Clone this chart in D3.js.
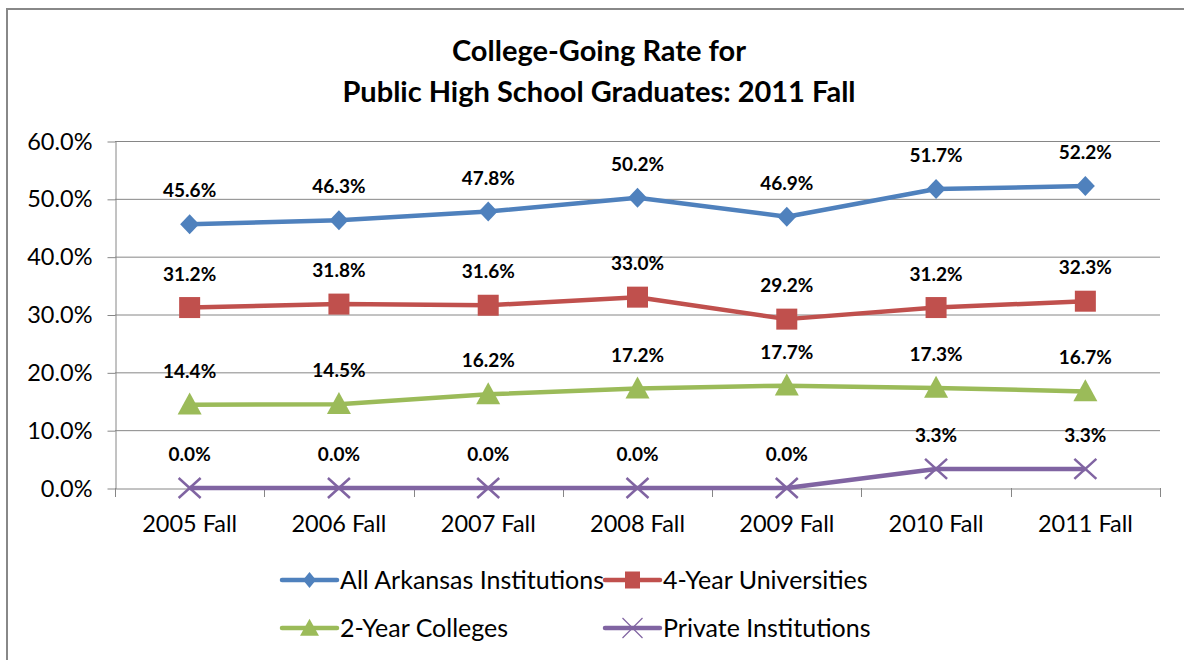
<!DOCTYPE html>
<html><head><meta charset="utf-8">
<script src="https://cdn.jsdelivr.net/npm/d3@7"></script>
<style>body{margin:0;background:#fff;}svg{display:block;font-family:Lato,"Open Sans",sans-serif;}</style>
</head><body><svg id="c" width="1184" height="660"></svg>
<script>
const categories = ["2005 Fall","2006 Fall","2007 Fall","2008 Fall","2009 Fall","2010 Fall","2011 Fall"];
const allArkansas = [45.6,46.3,47.8,50.2,46.9,51.7,52.2];
const fourYear = [31.2,31.8,31.6,33.0,29.2,31.2,32.3];
const twoYear = [14.4,14.5,16.2,17.2,17.7,17.3,16.7];
const privateInst = [0.0,0.0,0.0,0.0,0.0,3.3,3.3];
const yTicks = [0,10,20,30,40,50,60];
const seriesNames = ["All Arkansas Institutions","4-Year Universities","2-Year Colleges","Private Institutions"];
const seriesColors = ["#4F81BD","#C0504D","#9BBB59","#8064A2"];
const seriesMarkers = ["diamond","square","triangle","x"];
const seriesValues = [allArkansas, fourYear, twoYear, privateInst];

const svg = d3.select("#c");
svg.append("rect").attr("x",7).attr("y",9).attr("width",1200).attr("height",700)
  .attr("fill","none").attr("stroke","#888").attr("stroke-width",2);

const L=115,R=1160,T=141,B=488;
const x = d3.scaleBand().domain(categories).range([L,R]);
const y = d3.scaleLinear().domain([0,60]).range([B,T]);

// title
const title = svg.append("text").attr("text-anchor","middle").attr("font-weight","bold")
  .attr("font-size",29).attr("fill","#000");
title.append("tspan").attr("x",599).attr("y",61).text("College-Going Rate for");
title.append("tspan").attr("x",599).attr("y",102).text("Public High School  Graduates: 2011 Fall");

// gridlines
svg.append("g").selectAll("line").data(yTicks.filter(d=>d>0)).join("line")
  .attr("x1",L).attr("x2",R).attr("y1",d=>y(d)+0.5).attr("y2",d=>y(d)+0.5)
  .attr("stroke","#868686").attr("stroke-width",1);

// y axis
const yAxis = d3.axisLeft(y).tickValues(yTicks).tickSize(8).tickSizeOuter(0).tickPadding(15)
  .tickFormat(d=>d.toFixed(1)+"%");
const gy = svg.append("g").attr("transform",`translate(${L+0.5},0.5)`).call(yAxis);
gy.select(".domain").attr("stroke","#868686");
gy.selectAll(".tick line").attr("stroke","#868686");
gy.selectAll(".tick text").attr("font-size",23.5).attr("fill","#000").attr("font-family","Lato");

// x axis
const xAxis = d3.axisBottom(x).tickSize(0).tickPadding(27);
const gx = svg.append("g").attr("transform",`translate(0,${B+0.5})`).call(xAxis);
gx.select(".domain").attr("stroke","#868686");
gx.selectAll(".tick text").attr("font-size",23.5).attr("fill","#000").attr("font-family","Lato");
// band boundary ticks
const bounds = categories.map(c=>x(c)).concat([R]);
svg.append("g").selectAll("line").data(bounds).join("line")
  .attr("x1",d=>Math.round(d)+0.5).attr("x2",d=>Math.round(d)+0.5).attr("y1",B).attr("y2",B+9)
  .attr("stroke","#868686");

function marker(g, type, color, w, h, sw){
  if(type==="diamond") g.append("path").attr("d",`M0,${-h/2}L${w/2},0L0,${h/2}L${-w/2},0Z`).attr("fill",color);
  else if(type==="square") g.append("rect").attr("x",-w/2).attr("y",-h/2).attr("width",w).attr("height",h).attr("fill",color);
  else if(type==="triangle") g.append("path").attr("d",`M0,${-h*0.55}L${w/2},${h*0.45}L${-w/2},${h*0.45}Z`).attr("fill",color);
  else if(type==="x") g.append("path").attr("d",`M${-w/2},${-h/2}L${w/2},${h/2}M${-w/2},${h/2}L${w/2},${-h/2}`).attr("stroke",color).attr("stroke-width",sw).attr("fill","none");
}
const plotMarker = [[19,20,0],[21,21,0],[24,22,0],[22,20,2.5]];
const legendMarker = [[13,16,0],[15,17,0],[19,17,0],[20,20,1.2]];

const line = d3.line().x((d,i)=>x(categories[i])+x.bandwidth()/2).y(d=>y(d));
seriesValues.forEach((vals,s)=>{
  svg.append("path").datum(vals).attr("d",line).attr("fill","none")
    .attr("stroke",seriesColors[s]).attr("stroke-width",4.5).attr("stroke-linejoin","round");
  vals.forEach((v,i)=>{
    const g = svg.append("g").attr("transform",`translate(${x(categories[i])+x.bandwidth()/2},${y(v)})`);
    const m = plotMarker[s];
    marker(g, seriesMarkers[s], seriesColors[s], m[0], m[1], m[2]);
  });
  svg.append("g").selectAll("text").data(vals).join("text")
    .attr("x",(d,i)=>x(categories[i])+x.bandwidth()/2).attr("y",d=>y(d)-27)
    .attr("text-anchor","middle").attr("font-weight","bold").attr("font-size",19).attr("fill","#000")
    .text(d=>d.toFixed(1)+"%");
});

// legend
const legendPos = [[282,580],[605,580],[282,628],[605,628]];
seriesNames.forEach((n,s)=>{
  const [lx,ly]=legendPos[s];
  const g = svg.append("g");
  g.append("line").attr("x1",lx).attr("x2",lx+55).attr("y1",ly).attr("y2",ly).attr("stroke",seriesColors[s]).attr("stroke-width",4.5).attr("stroke-linecap","round");
  const mg = g.append("g").attr("transform",`translate(${lx+27.5},${ly})`);
  const m = legendMarker[s];
  marker(mg, seriesMarkers[s], seriesColors[s], m[0], m[1], m[2]);
  g.append("text").attr("x",lx+58).attr("y",ly+9).attr("font-size",25).attr("fill","#000").text(n);
});
</script></body></html>
